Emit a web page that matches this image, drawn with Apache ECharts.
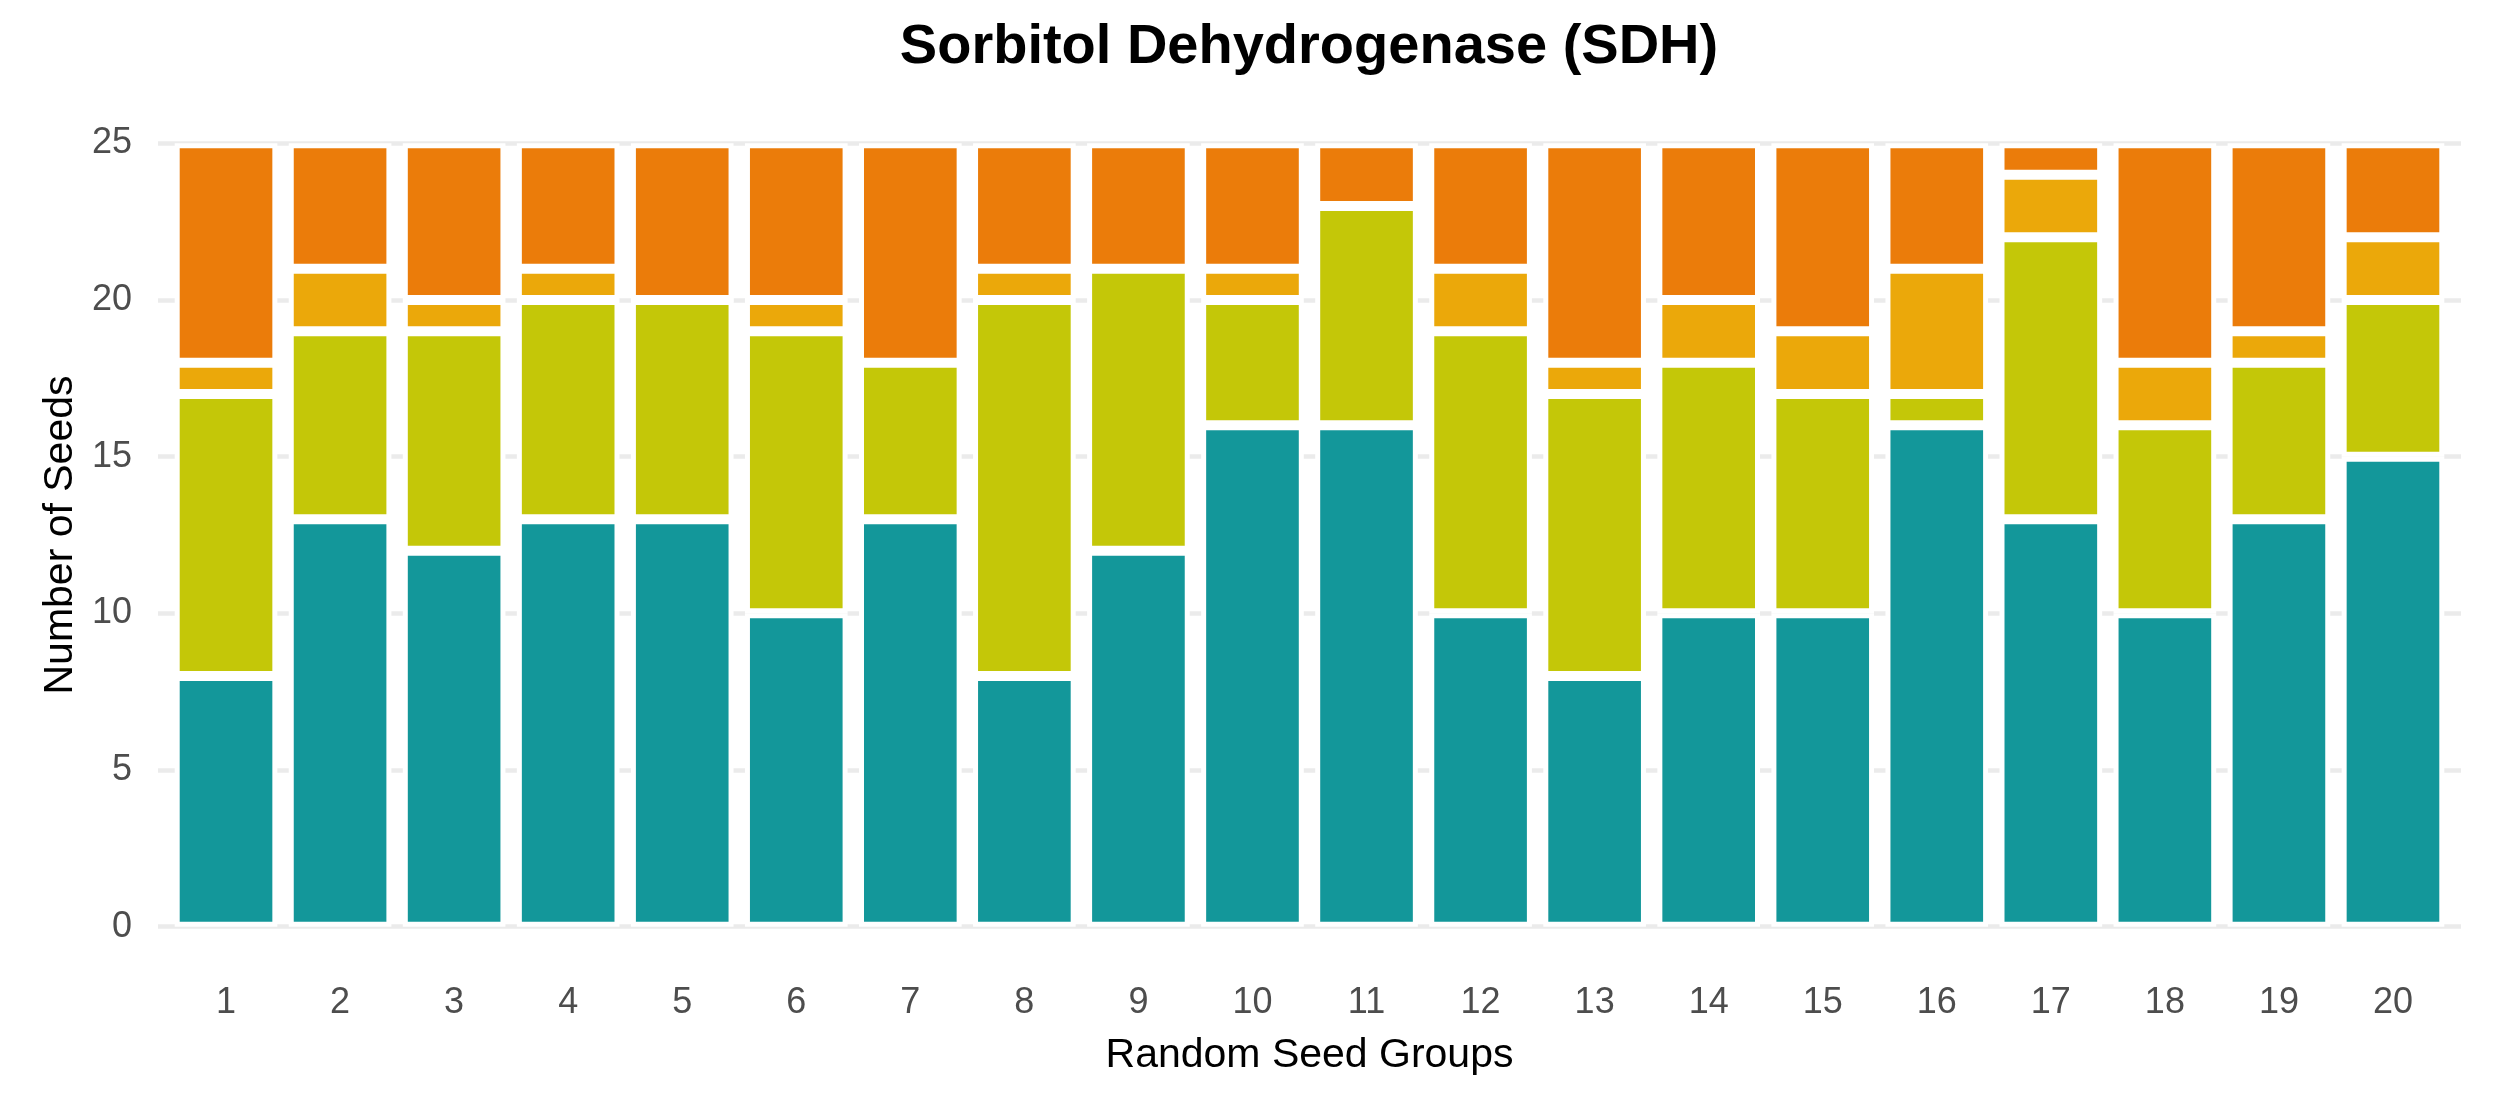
<!DOCTYPE html>
<html>
<head>
<meta charset="utf-8">
<script src="https://cdn.jsdelivr.net/npm/echarts@6/dist/echarts.min.js"></script>
<style>
html,body{margin:0;padding:0;background:#fff;}
#chart{width:2506px;height:1105px;}
</style>
</head>
<body>
<div id="chart"></div>
<script>
const groups = ['1','2','3','4','5','6','7','8','9','10','11','12','13','14','15','16','17','18','19','20'];
const tealVals   = [8,13,12,13,13,10,13,8,12,16,16,10,8,10,10,16,13,10,13,15];
const oliveVals  = [9,6,7,7,7,9,5,12,9,4,7,9,9,8,7,1,9,6,5,5];
const amberVals  = [1,2,1,1,0,1,0,1,0,1,0,2,1,2,2,4,2,2,1,2];
const orangeVals = [7,4,5,4,5,5,7,4,4,4,2,4,7,5,6,4,1,7,6,3];
const yMin = 0, yMax = 25, yStep = 5;

const FONT = "'Liberation Sans', Arial, Helvetica, sans-serif";
const chart = echarts.init(document.getElementById('chart'), null, {renderer:'canvas'});

function mk(name, vals, color){
  return {
    name: name,
    type: 'bar',
    stack: 'total',
    xAxisIndex: 0, yAxisIndex: 0,
    barWidth: '90%',
    data: vals,
    itemStyle: {color: color, borderColor: '#ffffff', borderWidth: 5},
    emphasis: {disabled: true}
  };
}

chart.setOption({
  animation: false,
  backgroundColor: '#ffffff',
  grid: [
    {left: 169, right: 56, top: 143.3, bottom: 178.3, containLabel: false},
    {left: 158, right: 45, top: 143.3, bottom: 178.3, containLabel: false}
  ],
  graphic: [{
    type: 'text', x: 1309, y: 47.5,
    style: {text: 'Sorbitol Dehydrogenase (SDH)', fill: '#000000',
      font: "bold 56px " + FONT, textAlign: 'center', textVerticalAlign: 'middle'}
  }],
  xAxis: [{
    type: 'category', gridIndex: 0, data: groups, boundaryGap: true,
    name: 'Random Seed Groups', nameLocation: 'middle', nameGap: 108,
    nameTextStyle: {fontSize: 41, color: '#000000', fontFamily: FONT},
    axisLine: {show: false}, axisTick: {show: false}, splitLine: {show: false},
    axisLabel: {fontSize: 36, color: '#4d4d4d', fontFamily: FONT, margin: 58, interval: 0}
  }, {
    type: 'value', gridIndex: 1, show: false, min: 0, max: 1
  }],
  yAxis: [{
    type: 'value', gridIndex: 0, min: yMin, max: yMax, interval: yStep,
    name: 'Number of Seeds', nameLocation: 'middle', nameGap: 88, nameRotate: 90,
    nameTextStyle: {fontSize: 41, color: '#000000', fontFamily: FONT},
    axisLine: {show: false}, axisTick: {show: false},
    axisLabel: {fontSize: 36, color: '#4d4d4d', fontFamily: FONT, margin: 37},
    splitLine: {show: false}
  }, {
    type: 'value', gridIndex: 1, min: yMin, max: yMax, interval: yStep,
    axisLine: {show: false}, axisTick: {show: false}, axisLabel: {show: false},
    splitLine: {show: true, lineStyle: {color: '#ebebeb', width: 4.5}}
  }],
  series: [
    mk('Teal', tealVals, '#13979A'),
    mk('Olive', oliveVals, '#C4C708'),
    mk('Amber', amberVals, '#EBA80A'),
    mk('Orange', orangeVals, '#EB7C0A')
  ]
});
</script>
</body>
</html>
